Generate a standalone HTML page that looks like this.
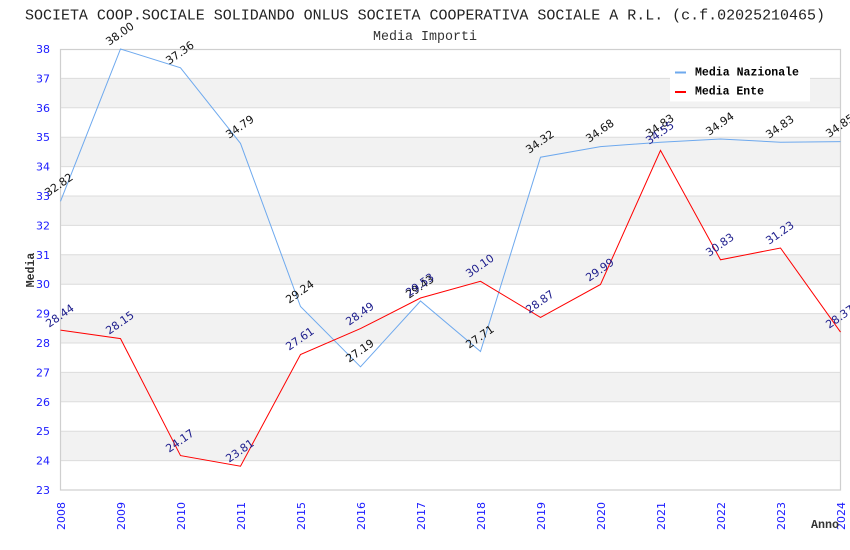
<!DOCTYPE html>
<html>
<head>
<meta charset="utf-8">
<style>
html,body{margin:0;padding:0;background:#fff;}
svg{display:block;}
</style>
</head>
<body>
<svg width="850" height="550" viewBox="0 0 850 550" xmlns="http://www.w3.org/2000/svg">
<rect x="0" y="0" width="850" height="550" fill="#ffffff"/>
<!-- bands -->
<g fill="#f2f2f2">
<rect x="60.5" y="78.4" width="780" height="29.4"/>
<rect x="60.5" y="137.2" width="780" height="29.4"/>
<rect x="60.5" y="196" width="780" height="29.4"/>
<rect x="60.5" y="254.8" width="780" height="29.4"/>
<rect x="60.5" y="313.6" width="780" height="29.4"/>
<rect x="60.5" y="372.4" width="780" height="29.4"/>
<rect x="60.5" y="431.2" width="780" height="29.4"/>
</g>
<!-- grid -->
<g stroke="#dcdcdc" stroke-width="1">
<line x1="60.5" x2="840.5" y1="78.4" y2="78.4"/>
<line x1="60.5" x2="840.5" y1="107.8" y2="107.8"/>
<line x1="60.5" x2="840.5" y1="137.2" y2="137.2"/>
<line x1="60.5" x2="840.5" y1="166.6" y2="166.6"/>
<line x1="60.5" x2="840.5" y1="196" y2="196"/>
<line x1="60.5" x2="840.5" y1="225.4" y2="225.4"/>
<line x1="60.5" x2="840.5" y1="254.8" y2="254.8"/>
<line x1="60.5" x2="840.5" y1="284.2" y2="284.2"/>
<line x1="60.5" x2="840.5" y1="313.6" y2="313.6"/>
<line x1="60.5" x2="840.5" y1="343" y2="343"/>
<line x1="60.5" x2="840.5" y1="372.4" y2="372.4"/>
<line x1="60.5" x2="840.5" y1="401.8" y2="401.8"/>
<line x1="60.5" x2="840.5" y1="431.2" y2="431.2"/>
<line x1="60.5" x2="840.5" y1="460.6" y2="460.6"/>
</g>
<rect x="60.5" y="49.5" width="780" height="440.5" fill="none" stroke="#cfcfcf" stroke-width="1.2"/>

<!-- title -->
<text x="425" y="19.5" text-anchor="middle" font-family="Liberation Mono, DejaVu Sans Mono, monospace" font-size="15" fill="#222" textLength="800" lengthAdjust="spacingAndGlyphs">SOCIETA COOP.SOCIALE SOLIDANDO ONLUS SOCIETA COOPERATIVA SOCIALE A R.L. (c.f.02025210465)</text>
<text x="425" y="40" text-anchor="middle" font-family="Liberation Mono, DejaVu Sans Mono, monospace" font-size="13.5" fill="#333" textLength="104" lengthAdjust="spacingAndGlyphs">Media Importi</text>

<!-- y labels -->
<g font-family="DejaVu Sans, Liberation Sans, sans-serif" font-size="11" fill="#1a1aff" text-anchor="end">
<text x="50" y="53">38</text>
<text x="50" y="82.4">37</text>
<text x="50" y="111.8">36</text>
<text x="50" y="141.2">35</text>
<text x="50" y="170.6">34</text>
<text x="50" y="200">33</text>
<text x="50" y="229.4">32</text>
<text x="50" y="258.8">31</text>
<text x="50" y="288.2">30</text>
<text x="50" y="317.6">29</text>
<text x="50" y="347">28</text>
<text x="50" y="376.4">27</text>
<text x="50" y="405.8">26</text>
<text x="50" y="435.2">25</text>
<text x="50" y="464.6">24</text>
<text x="50" y="494">23</text>
</g>

<!-- x labels -->
<g font-family="DejaVu Sans, Liberation Sans, sans-serif" font-size="11" fill="#1a1aff" text-anchor="end">
<text transform="translate(65,502) rotate(-90)">2008</text>
<text transform="translate(125,502) rotate(-90)">2009</text>
<text transform="translate(185,502) rotate(-90)">2010</text>
<text transform="translate(245,502) rotate(-90)">2011</text>
<text transform="translate(305,502) rotate(-90)">2015</text>
<text transform="translate(365,502) rotate(-90)">2016</text>
<text transform="translate(425,502) rotate(-90)">2017</text>
<text transform="translate(485,502) rotate(-90)">2018</text>
<text transform="translate(545,502) rotate(-90)">2019</text>
<text transform="translate(605,502) rotate(-90)">2020</text>
<text transform="translate(665,502) rotate(-90)">2021</text>
<text transform="translate(725,502) rotate(-90)">2022</text>
<text transform="translate(785,502) rotate(-90)">2023</text>
<text transform="translate(845,502) rotate(-90)">2024</text>
</g>

<!-- axis titles -->
<text transform="translate(34,270) rotate(-90)" text-anchor="middle" font-family="Liberation Mono, DejaVu Sans Mono, monospace" font-weight="bold" font-size="11.5" fill="#333">Media</text>
<text x="811" y="528" font-family="Liberation Mono, DejaVu Sans Mono, monospace" font-weight="bold" font-size="11.5" fill="#333" textLength="28" lengthAdjust="spacingAndGlyphs">Anno</text>

<!-- series lines -->
<polyline fill="none" stroke="#6ea9ee" stroke-width="1" points="60.5,201.3 120.5,49 180.5,67.8 240.5,143.4 300.5,306.5 360.5,366.8 420.5,301 480.5,351.5 540.5,157.2 600.5,146.6 660.5,142.2 720.5,139 780.5,142.2 840.5,141.6"/>
<polyline fill="none" stroke="#ff0000" stroke-width="1" points="60.5,330.1 120.5,338.6 180.5,455.6 240.5,466.2 300.5,354.5 360.5,328.6 420.5,298 480.5,281.3 540.5,317.4 600.5,284.5 660.5,150.4 720.5,259.8 780.5,248 840.5,332.1"/>

<!-- Nazionale labels -->
<g font-family="DejaVu Sans, Liberation Sans, sans-serif" font-size="11" fill="#111" text-anchor="middle" dominant-baseline="central">
<text transform="translate(59,185) rotate(-35)">32.82</text>
<text transform="translate(120,34) rotate(-35)">38.00</text>
<text transform="translate(180,53) rotate(-35)">37.36</text>
<text transform="translate(240,127) rotate(-35)">34.79</text>
<text transform="translate(300,292) rotate(-35)">29.24</text>
<text transform="translate(360,351) rotate(-35)">27.19</text>
<text transform="translate(420,287) rotate(-35)">29.43</text>
<text transform="translate(480,337) rotate(-35)">27.71</text>
<text transform="translate(540,142) rotate(-35)">34.32</text>
<text transform="translate(600,131) rotate(-35)">34.68</text>
<text transform="translate(660,126) rotate(-35)">34.83</text>
<text transform="translate(720,124) rotate(-35)">34.94</text>
<text transform="translate(780,127) rotate(-35)">34.83</text>
<text transform="translate(840,126) rotate(-35)">34.85</text>
</g>
<!-- Ente labels -->
<g font-family="DejaVu Sans, Liberation Sans, sans-serif" font-size="11" fill="#1c1c8c" text-anchor="middle" dominant-baseline="central">
<text transform="translate(60,316) rotate(-35)">28.44</text>
<text transform="translate(120,323) rotate(-35)">28.15</text>
<text transform="translate(180,441) rotate(-35)">24.17</text>
<text transform="translate(240,451) rotate(-35)">23.81</text>
<text transform="translate(300,339) rotate(-35)">27.61</text>
<text transform="translate(360,314) rotate(-35)">28.49</text>
<text transform="translate(420,285) rotate(-35)">29.53</text>
<text transform="translate(480,266) rotate(-35)">30.10</text>
<text transform="translate(540,302) rotate(-35)">28.87</text>
<text transform="translate(600,270) rotate(-35)">29.99</text>
<text transform="translate(660,133) rotate(-35)">34.55</text>
<text transform="translate(720,245) rotate(-35)">30.83</text>
<text transform="translate(780,233) rotate(-35)">31.23</text>
<text transform="translate(840,317) rotate(-35)">28.37</text>
</g>

<!-- legend -->
<rect x="670" y="58" width="140" height="43.5" fill="#ffffff"/>
<rect x="675" y="71.5" width="11" height="2" fill="#6ea9ee"/>
<rect x="675" y="91" width="11" height="2" fill="#ff0000"/>
<g font-family="Liberation Mono, DejaVu Sans Mono, monospace" font-weight="bold" font-size="12" fill="#000">
<text x="695" y="75.5" textLength="104" lengthAdjust="spacingAndGlyphs">Media Nazionale</text>
<text x="695" y="94.5" textLength="69" lengthAdjust="spacingAndGlyphs">Media Ente</text>
</g>
</svg>
</body>
</html>
